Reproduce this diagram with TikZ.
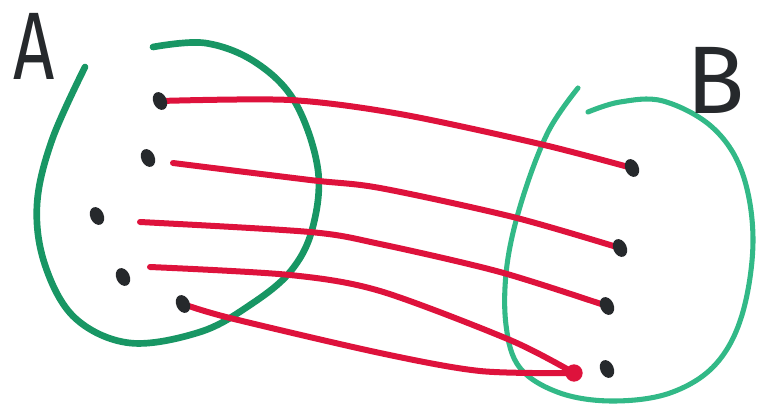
\documentclass[tikz,border=0pt]{standalone}
\usepackage{fontspec}
\setmainfont{Fira Sans}
\usetikzlibrary{shapes.geometric}
\pgfdeclarelayer{background}
\pgfsetlayers{background,main}
\definecolor{setA}{RGB}{24,150,100}
\definecolor{setB}{RGB}{50,185,135}
\definecolor{mapred}{RGB}{222,18,60}
\definecolor{ink}{RGB}{38,41,44}
\tikzset{
  elem/.style={ellipse, fill=ink, inner sep=0pt, minimum width=10pt, minimum height=14pt, rotate=25},
  setline/.style={line width=5pt, line cap=round, line join=round},
  arrowline/.style={draw=mapred, line width=4.5pt, line cap=round},
  label/.style={text=ink, font=\fontsize{72}{72}\selectfont, inner sep=0pt}
}
\begin{document}
\begin{tikzpicture}[x=0.75pt,y=-0.75pt]
\useasboundingbox (0,0) rectangle (761,414);
% labels
\node[label, xscale=0.75] (A) at (34,46) {A};
\node[label] (B) at (716,80) {B};
% elements of A
\node[elem] (a1) at (160,101) {};
\node[elem] (a2) at (148,158) {};
\node[elem] (a3) at (97,216) {};
\node[elem] (a4) at (123,277) {};
\node[elem] (a5) at (183,304) {};
% elements of B
\node[elem] (b1) at (632,168) {};
\node[elem] (b2) at (620,248) {};
\node[elem] (b3) at (607,306) {};
\node[elem] (b4) at (607,369) {};
\node[circle, fill=mapred, inner sep=0pt, minimum size=13pt] (rb) at (574,373) {};
\begin{pgfonlayer}{background}
% set A
\draw[setline, setA] plot[smooth, tension=0.6] coordinates {
 (85,67) (52,140) (37,205) (45,265) (75,318) (130,343) (200,332) (250,305)
 (290,272) (312,230) (318,170) (295,102) (255,62) (205,43) (153,47)};
% set B
\draw[setline, setB, line width=3.8pt] plot[smooth, tension=0.6] coordinates {
 (578,88) (548,132) (522,200) (507,265) (506,325) (520,368) (560,393) (613,401)
 (670,393) (715,365) (742,315) (753,240) (742,172) (712,127) (663,101) (620,102) (588,112)};
% mapping
\draw[arrowline] plot[smooth, tension=0.5] coordinates {(a1) (290,100) (400,114) (540,144) (b1)};
\draw[arrowline] plot[smooth, tension=0.5] coordinates {(173,163) (310,180) (380,188) (513,217) (b2)};
\draw[arrowline] plot[smooth, tension=0.5] coordinates {(140,222) (310,232) (380,244) (500,272) (b3)};
\draw[arrowline] plot[smooth, tension=0.5] coordinates {(150,267) (290,275) (380,291) (510,340) (rb)};
\draw[arrowline] plot[smooth, tension=0.5] coordinates {(a5) (230,318) (380,353) (480,371) (rb)};
\end{pgfonlayer}
\end{tikzpicture}
\end{document}
